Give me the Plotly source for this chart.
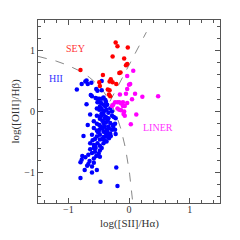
import numpy as np
import plotly.graph_objects as go

# ---- data ----
sey_x = [-0.80, -0.22, -0.19, -0.02, -0.27, -0.08, -0.05, -0.03, -0.16, -0.14,
         -0.43, -0.49, -0.30, -0.32, -0.27, -0.21, -0.35, -0.32, -0.48, -0.33, -0.31]
sey_y = [0.68, 1.13, 1.07, 1.05, 0.90, 0.87, 0.76, 0.78, 0.63, 0.64,
         0.60, 0.48, 0.53, 0.49, 0.48, 0.45, 0.36, 0.35, 0.42, 0.28, 0.25]

liner_x = [0.07, -0.03, 0.00, 0.02, -0.03, -0.15, -0.05, 0.10, 0.22, 0.48,
           0.05, -0.23, -0.19, -0.16, -0.13, -0.03, -0.10, -0.07, -0.19, -0.16,
           -0.13, -0.08, 0.12, 0.03, -0.26, -0.09, -0.28, -0.10, -0.07]
liner_y = [0.67, 0.58, 0.44, 0.45, 0.37, 0.28, 0.29, 0.29, 0.24, 0.25,
           0.20, 0.15, 0.15, 0.15, 0.13, 0.14, 0.09, 0.09, 0.05, 0.03,
           0.02, 0.00, -0.05, -0.21, 0.11, -0.04, 0.09, 0.15, -0.07]

hii_x = [-0.70, -0.72, -0.68, -0.78, -0.62, -0.45, -0.86, -0.54, -0.52, -0.45,
         -0.63, -0.61, -0.55, -0.52, -0.49, -0.45, -0.42, -0.39, -0.70, -0.52,
         -0.49, -0.46, -0.42, -0.38, -0.36, -0.48, -0.39, -0.53, -0.49, -0.45,
         -0.41, -0.37, -0.31, -0.34, -0.28, -0.45, -0.64, -0.53, -0.48, -0.42,
         -0.38, -0.34, -0.48, -0.28, -0.25, -0.22, -0.68, -0.58, -0.53, -0.49,
         -0.42, -0.38, -0.31, -0.27, -0.23, -0.34, -0.26, -0.75, -0.58, -0.53,
         -0.48, -0.42, -0.37, -0.28, -0.23, -0.31, -0.38, -0.22, -0.61, -0.53,
         -0.48, -0.42, -0.37, -0.30, -0.56, -0.48, -0.64, -0.58, -0.52, -0.48,
         -0.42, -0.37, -0.56, -0.64, -0.56, -0.48, -0.61, -0.50, -0.54, -0.67,
         -0.58, -0.48, -0.72, -0.80, -0.65, -0.58, -0.69, -0.73, -0.61, -0.53,
         -0.61, -0.80, -0.47, -0.19, -0.21, -0.77, -0.78, -0.67, -0.44, -0.40,
         -0.35, -0.33, -0.46, -0.40, -0.36, -0.51, -0.44, -0.40, -0.33, -0.45,
         -0.55, -0.50, -0.43, -0.35, -0.60, -0.58, -0.45]
hii_y = [0.51, 0.49, 0.45, 0.45, 0.47, 0.50, 0.36, 0.37, 0.34, 0.35,
         0.27, 0.25, 0.22, 0.21, 0.21, 0.21, 0.23, 0.19, 0.12, 0.15,
         0.15, 0.14, 0.11, 0.16, 0.11, 0.08, 0.08, 0.05, 0.03, 0.04,
         0.01, 0.03, 0.05, -0.02, 0.00, -0.03, -0.05, -0.07, -0.08, -0.05,
         -0.09, -0.11, -0.12, -0.07, -0.09, -0.11, -0.22, -0.16, -0.20, -0.22,
         -0.19, -0.18, -0.19, -0.22, -0.20, -0.25, -0.25, -0.40, -0.27, -0.31,
         -0.29, -0.33, -0.30, -0.30, -0.30, -0.36, -0.36, -0.37, -0.38, -0.41,
         -0.38, -0.42, -0.41, -0.40, -0.45, -0.46, -0.52, -0.55, -0.52, -0.56,
         -0.52, -0.49, -0.57, -0.62, -0.66, -0.64, -0.68, -0.69, -0.73, -0.71,
         -0.77, -0.74, -0.75, -0.83, -0.81, -0.84, -0.89, -0.96, -0.90, -0.96,
         -1.00, -1.09, -1.15, -1.22, -0.92, -0.73, -0.79, -0.86, -0.15, -0.12,
         -0.14, -0.28, -0.25, -0.24, -0.33, -0.34, -0.45, -0.47, -0.44, -0.60,
         -0.60, -0.33, -0.27, -0.38, -0.47, -0.60, -0.07]

# demarcation lines (Kewley et al. 2001 / 2006, [SII] diagram)
k01_a, k01_b, k01_c = 0.72, 0.32, 1.30
k06_m, k06_q = 1.89, 0.76

x_lo, x_hi = -1.5, 1.5
y_lo, y_hi = -1.5, 1.5

# Kewley 2001 curve
x_end = k01_b + k01_a / (y_lo - k01_c)
kx = np.linspace(x_lo, x_end, 300)
ky = k01_a / (kx - k01_b) + k01_c

# Seyfert / LINER line from intersection with the curve up to y = k01_c
A = k06_m
B = (k06_q - k01_c) - k06_m * k01_b
C = -(k06_q - k01_c) * k01_b - k01_a
x_int = (-B - np.sqrt(B * B - 4 * A * C)) / (2 * A)
x_top = (k01_c - k06_q) / k06_m
lx = np.array([x_int, x_top])
ly = k06_m * lx + k06_q

fig = go.Figure()
dash_line = dict(color="#888888", width=1, dash="dash")
fig.add_trace(go.Scatter(x=kx, y=ky, mode="lines", line=dash_line, hoverinfo="skip"))
fig.add_trace(go.Scatter(x=lx, y=ly, mode="lines", line=dash_line, hoverinfo="skip"))

fig.add_trace(go.Scatter(x=hii_x, y=hii_y, mode="markers",
                         marker=dict(color="#0000ff", size=4.5)))
fig.add_trace(go.Scatter(x=sey_x, y=sey_y, mode="markers",
                         marker=dict(color="#ff0000", size=4.5)))
fig.add_trace(go.Scatter(x=liner_x, y=liner_y, mode="markers",
                         marker=dict(color="#ff00ff", size=4.5)))

label_font = "Liberation Serif"
fig.add_annotation(x=-0.89, y=1.04, text="SEY", showarrow=False,
                   font=dict(family=label_font, size=10, color="#ff3333"))
fig.add_annotation(x=-1.21, y=0.54, text="HII", showarrow=False,
                   font=dict(family=label_font, size=10, color="#3333ff"))
fig.add_annotation(x=0.48, y=-0.26, text="LINER", showarrow=False,
                   font=dict(family=label_font, size=10, color="#ff33ff"))

# axis titles
title_font = dict(family=label_font, size=11, color="#333333")
fig.add_annotation(x=0.5, y=0, xref="paper", yref="paper", text="log([SII]/H\u03b1)",
                   showarrow=False, yanchor="middle", yshift=-20, font=title_font)
fig.add_annotation(x=0, y=0.5, xref="paper", yref="paper", text="log([OIII]/H\u03b2)",
                   showarrow=False, xanchor="center", xshift=-23, textangle=-90,
                   font=title_font)

axis_common = dict(
    showgrid=False, zeroline=False, showline=True, linecolor="#555555", linewidth=1,
    mirror="ticks", ticks="inside", ticklen=5, tickcolor="#555555",
    tickvals=[-1, 0, 1], ticktext=["\u22121", "0", "1"],
    tickfont=dict(family=label_font, size=10, color="#333333"),
    minor=dict(dtick=0.2, ticks="inside", ticklen=3, tickcolor="#555555", tick0=0),
    automargin=False,
)
fig.update_layout(
    width=232, height=232,
    margin=dict(l=29.5, r=19.5, t=12.2, b=36.8),
    paper_bgcolor="white", plot_bgcolor="white",
    showlegend=False,
    xaxis=dict(range=[x_lo, x_hi], ticklabelstandoff=-3, **axis_common),
    yaxis=dict(range=[y_lo, y_hi], **axis_common),
)

fig.write_html("out.html")
